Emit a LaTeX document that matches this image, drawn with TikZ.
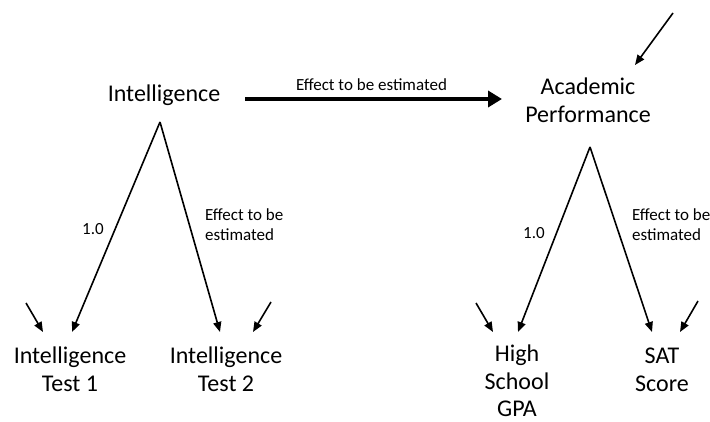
\documentclass[tikz,border=0pt]{standalone}
\usepackage{fontspec}
\setmainfont{Carlito}
\usetikzlibrary{arrows.meta}
\tikzset{
  bigtext/.style={font=\fontsize{24}{28}\selectfont, inner sep=0pt, align=center},
  smalltext/.style={font=\fontsize{17}{20.5}\selectfont, inner sep=0pt},
  arr/.style={line width=1.6pt, -{Triangle[length=10pt,width=8pt]}},
  bigarr/.style={line width=4.5pt, -{Triangle[length=14pt,width=16pt]}},
}
\begin{document}
\begin{tikzpicture}[x=1pt,y=1pt]
\useasboundingbox (0,0) rectangle (710,421);
% latent variables (base = baseline of the last line)
\node[bigtext, anchor=base] (int) at (164,319) {Intelligence};
\node[bigtext, anchor=base] (acad) at (588,298) {Academic\\Performance};
% indicators
\node[bigtext, anchor=base] (t1) at (70,30) {Intelligence\\Test 1};
\node[bigtext, anchor=base] (t2) at (226,30) {Intelligence\\Test 2};
\node[bigtext, anchor=base, font=\fontsize{24}{27.5}\selectfont] (gpa) at (517,4.5) {High\\School\\GPA};
\node[bigtext, anchor=base] (sat) at (662,30) {SAT\\Score};
% apexes and error-term origins
\coordinate (intA) at ([xshift=-4pt,yshift=-20pt]int.base);
\coordinate (acadA) at ([xshift=2pt,yshift=-24pt]acad.base);
\coordinate (e1) at (26,118);
\coordinate (e2) at (271,119);
\coordinate (e3) at (476,118);
\coordinate (e4) at (698,120);
\coordinate (e5) at (673,408);
% structural path
\draw[bigarr] ([xshift=81pt,yshift=3pt]int.base) -- ([xshift=-86pt,yshift=24pt]acad.base);
\node[smalltext, anchor=base] (lbltop) at (371.5,330.5) {Effect to be estimated};
% loadings
\draw[arr] (intA) -- ([xshift=2pt,yshift=59pt]t1.base);
\draw[arr] (intA) -- ([xshift=-6pt,yshift=59pt]t2.base);
\draw[arr] (acadA) -- ([xshift=1pt,yshift=84.5pt]gpa.base);
\draw[arr] (acadA) -- ([xshift=-10pt,yshift=59pt]sat.base);
% error terms
\draw[arr] (e1) -- ([xshift=-27pt,yshift=59pt]t1.base);
\draw[arr] (e2) -- ([xshift=27pt,yshift=59pt]t2.base);
\draw[arr] (e3) -- ([xshift=-24pt,yshift=84.5pt]gpa.base);
\draw[arr] (e4) -- ([xshift=18pt,yshift=59pt]sat.base);
\draw[arr] (e5) -- ([xshift=47pt,yshift=58pt]acad.base);
% loading labels
\node[smalltext] (l1) at (93,192) {1.0};
\node[smalltext, anchor=base west, align=left] (l2) at (205,180) {Effect to be\\estimated};
\node[smalltext] (l3) at (534,188) {1.0};
\node[smalltext, anchor=base west, align=left] (l4) at (632,180) {Effect to be\\estimated};
\end{tikzpicture}
\end{document}
